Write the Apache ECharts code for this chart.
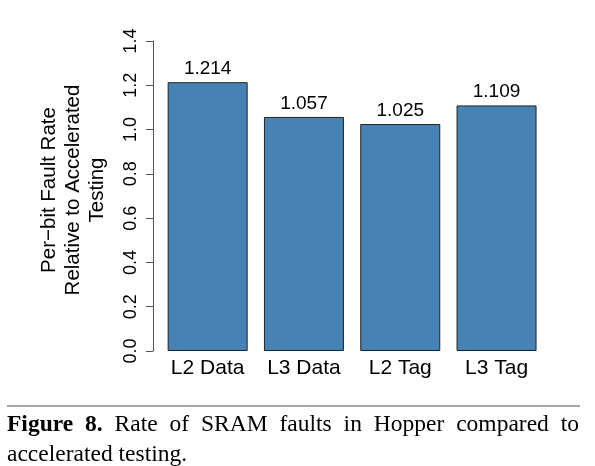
<!DOCTYPE html>
<html>
<head>
<meta charset="utf-8">
<script src="https://cdn.jsdelivr.net/npm/echarts@6/dist/echarts.min.js"></script>
<style>
html,body{margin:0;padding:0;background:#fff;}
#chart{width:595px;height:466px;}
</style>
</head>
<body>
<div id="chart"></div>
<script>
const categories = ['L2 Data', 'L3 Data', 'L2 Tag', 'L3 Tag'];
const values = [1.214, 1.057, 1.025, 1.109];
const yMin = 0, yMax = 1.4, yStep = 0.2;
const yAxisTitle = 'Per\u2212bit Fault Rate\nRelative to Accelerated\nTesting';
const captionBold = ['Figure', '8.'];
const captionWords = ['Rate', 'of', 'SRAM', 'faults', 'in', 'Hopper', 'compared', 'to'];
const captionLine2 = 'accelerated testing.';

const sans = 'Liberation Sans, Arial, Helvetica, sans-serif';
const serif = 'Liberation Serif, Times New Roman, serif';
const capSize = 23.5;
const fontReg = capSize + 'px ' + serif;
const fontBold = 'bold ' + capSize + 'px ' + serif;

// justify first caption line between left and right margins
const capLeft = 7, capRight = 579;
const mctx = document.createElement('canvas').getContext('2d');
const words = captionBold.map(t => ({ text: t, font: fontBold }))
  .concat(captionWords.map(t => ({ text: t, font: fontReg })));
let total = 0;
words.forEach(w => { mctx.font = w.font; w.width = mctx.measureText(w.text).width; total += w.width; });
const gap = (capRight - capLeft - total) / (words.length - 1);

const chart = echarts.init(document.getElementById('chart'), null, { renderer: 'canvas' });

const graphics = [
  { type: 'line', shape: { x1: 7, y1: 406, x2: 580, y2: 406 }, style: { stroke: '#888', lineWidth: 1.5 } },
  { type: 'text', x: capLeft, y: 455, style: { text: captionLine2, font: fontReg, fill: '#000', verticalAlign: 'middle', align: 'left' } }
];
let cx = capLeft;
words.forEach(w => {
  graphics.push({
    type: 'text', x: cx, y: 425,
    style: { text: w.text, font: w.font, fill: '#000', verticalAlign: 'middle', align: 'left' }
  });
  cx += w.width + gap;
});

chart.setOption({
  animation: false,
  backgroundColor: '#fff',
  grid: { left: 159.5, right: 50.3, top: 41, bottom: 115, containLabel: false, outerBoundsMode: 'none' },
  xAxis: {
    type: 'category',
    data: categories,
    axisLine: { show: false },
    axisTick: { show: false },
    axisLabel: { color: '#000', fontSize: 21, fontFamily: sans, margin: 7 }
  },
  yAxis: {
    type: 'value',
    min: yMin, max: yMax, interval: yStep,
    offset: 6.5,
    splitLine: { show: false },
    axisLine: { show: true, lineStyle: { color: '#555', width: 1 } },
    axisTick: { show: true, length: 7, lineStyle: { color: '#555', width: 1 } },
    axisLabel: { color: '#000', fontSize: 18, fontFamily: sans, rotate: 90, margin: 13,
      formatter: v => v.toFixed(1) },
    name: yAxisTitle,
    nameLocation: 'middle',
    nameRotate: 90,
    nameGap: 44,
    nameTextStyle: { color: '#000', fontSize: 20.5, fontFamily: sans, lineHeight: 24, align: 'center', padding: [0, 0, 0, 12] }
  },
  series: [{
    type: 'bar',
    data: values,
    barWidth: 80,
    itemStyle: { color: '#4682B4', borderColor: '#222', borderWidth: 1 },
    label: {
      show: true, position: 'top', distance: 4,
      color: '#000', fontSize: 19, fontFamily: sans,
      formatter: p => p.value.toFixed(3)
    }
  }],
  graphic: graphics
});
</script>
</body>
</html>
